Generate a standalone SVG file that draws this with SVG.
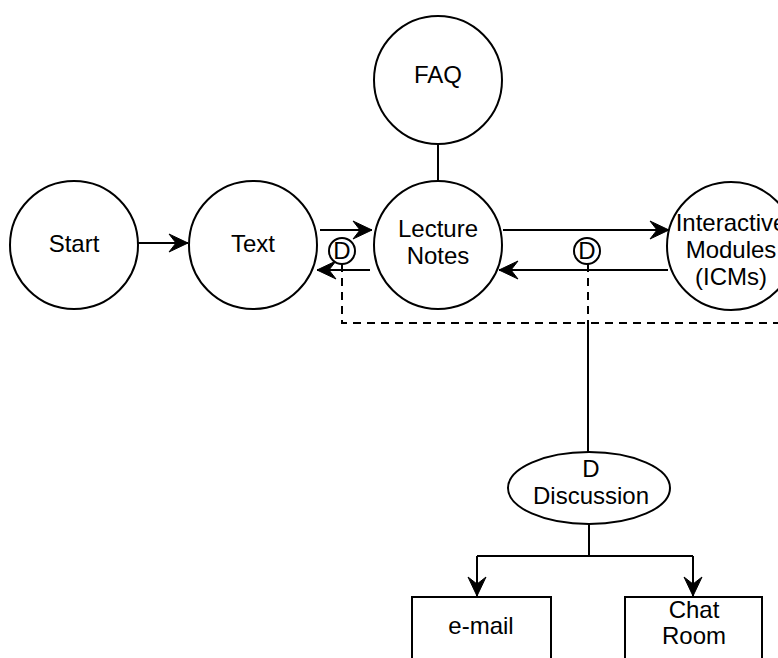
<svg xmlns="http://www.w3.org/2000/svg" width="778" height="658" viewBox="0 0 778 658">
<defs>
<style>
.n{fill:#fff;stroke:#000;stroke-width:2}
.t{font-family:"Liberation Sans",Arial,sans-serif;font-size:24px;fill:#000;text-anchor:middle}
.c{fill:none;stroke:#000;stroke-width:2}
.d{fill:none;stroke:#000;stroke-width:2;stroke-dasharray:8,6}
</style>
<marker id="a" markerUnits="userSpaceOnUse" viewBox="-21 -10 22 20" refX="0" refY="0" markerWidth="22" markerHeight="20" orient="auto">
<path d="M0,0 L-19,-9 L-12,0 L-19,9 Z" fill="#000" stroke="#000" stroke-width="1" stroke-linejoin="miter"/>
</marker>
</defs>
<rect width="778" height="658" fill="#fff"/>
<g id="connectors">
<path class="c" d="M138,243 H188" marker-end="url(#a)"/>
<path class="c" d="M320,230 H372" marker-end="url(#a)"/>
<path class="c" d="M370,270 H317" marker-end="url(#a)"/>
<path class="c" d="M503,230 H669" marker-end="url(#a)"/>
<path class="c" d="M668,270 H499" marker-end="url(#a)"/>
<path class="c" d="M438,145 V180"/>
<path class="d" d="M342,264 V323 H778"/>
<path class="d" d="M588,264 V323"/>
<path class="c" d="M588,323 V452"/>
<path class="c" d="M589,525 V556"/>
<path class="c" d="M477,556 H693"/>
<path class="c" d="M477,556 V596" marker-end="url(#a)"/>
<path class="c" d="M693,556 V596" marker-end="url(#a)"/>
</g>
<g id="start"><circle class="n" cx="74" cy="245" r="64"/><text class="t" x="74" y="252">Start</text></g>
<g id="text"><circle class="n" cx="253" cy="245" r="64"/><text class="t" x="253" y="252">Text</text></g>
<g id="faq"><circle class="n" cx="438" cy="80" r="64"/><text class="t" x="438" y="83">FAQ</text></g>
<g id="lecture"><circle class="n" cx="438" cy="245" r="64"/><text class="t" x="438" y="237">Lecture</text><text class="t" x="438" y="264">Notes</text></g>
<g id="icms"><circle class="n" cx="731" cy="246" r="64"/><text class="t" x="731" y="231">Interactive</text><text class="t" x="731" y="258">Modules</text><text class="t" x="731" y="285">(ICMs)</text></g>
<g id="d1"><circle class="n" cx="342" cy="251" r="13"/><text class="t" x="342" y="259">D</text></g>
<g id="d2"><circle class="n" cx="587" cy="251" r="13"/><text class="t" x="587" y="259">D</text></g>
<g id="discussion"><ellipse class="n" cx="589" cy="488" rx="81" ry="36"/><text class="t" x="591" y="477">D</text><text class="t" x="591" y="504">Discussion</text></g>
<g id="email"><rect class="n" x="412" y="597" width="139" height="80"/><text class="t" x="481" y="634">e-mail</text></g>
<g id="chat"><rect class="n" x="625" y="597" width="137" height="80"/><text class="t" x="694" y="618">Chat</text><text class="t" x="694" y="644">Room</text></g>
</svg>
